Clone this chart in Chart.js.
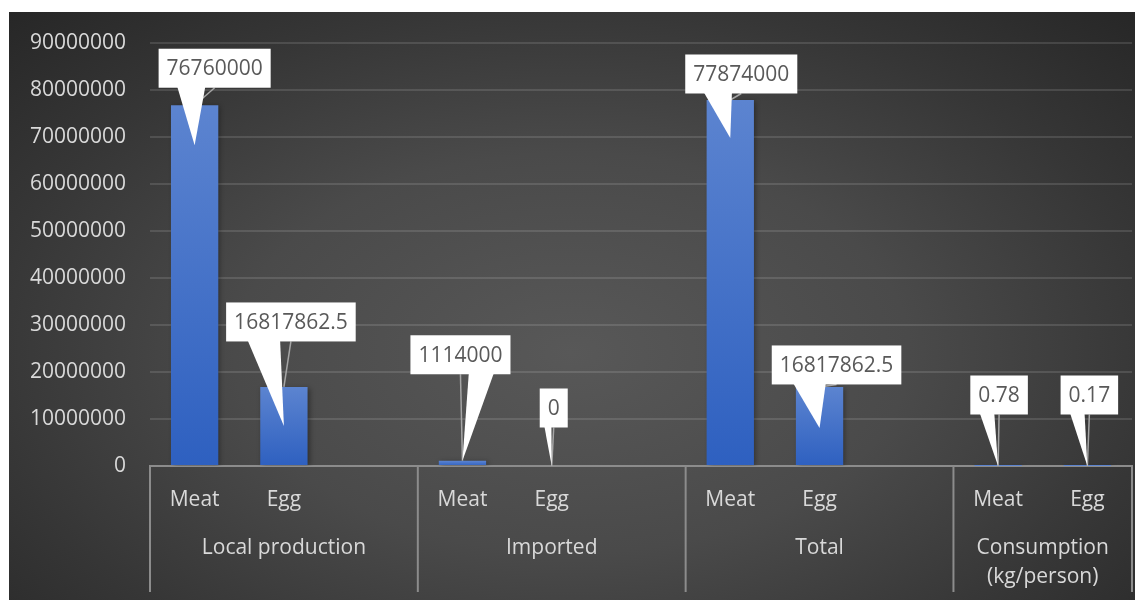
<!DOCTYPE html>
<html>
<head>
<meta charset="utf-8">
<script src="https://cdn.jsdelivr.net/npm/chart.js@4.4.1/dist/chart.umd.min.js"></script>
<style>
  html, body { margin: 0; padding: 0; background: #ffffff; }
  #wrap {
    position: absolute; left: 9px; top: 12px; width: 1126px; height: 588px;
    background: radial-gradient(ellipse 75% 85% at 50% 58%, #585858 0%, #4a4a4a 40%, #363636 70%, #242424 100%);
  }
</style>
</head>
<body>
<div id="wrap"><canvas id="chart" width="1126" height="588"></canvas></div>
<script>
// ── Data ────────────────────────────────────────────────
const itemLabels  = ["Meat", "Egg", "", "Meat", "Egg", "", "Meat", "Egg", "", "Meat", "Egg"];
const values      = [76760000, 16817862.5, null, 1114000, 0, null, 77874000, 16817862.5, null, 0.78, 0.17];
const groupNames  = ["Local production", "Imported", "Total", ["Consumption", "(kg/person)"]];
const groupStarts = [0, 3, 6, 9];
const yTicks      = [0, 10000000, 20000000, 30000000, 40000000, 50000000, 60000000, 70000000, 80000000, 90000000];

// callout placement relative to the bar top (px): box centre offset and wedge tip offset
const calloutLayout = {
  0: { dx: 20, dy: -37, tip: 40 },
  1: { dx: 7, dy: -65, tip: 39 },
  3: { dx: -2, dy: -106, tip: 0 },
  4: { dx: 2, dy: -58, tip: 0 },
  6: { dx: 11, dy: -26, tip: 38 },
  7: { dx: 17, dy: -22, tip: 41 },
  9: { dx: 1, dy: -71, tip: 0 },
  10: { dx: 2, dy: -71, tip: 0 }
};

const FONT = "'Open Sans', 'Liberation Sans', sans-serif";
const FONT_SIZE = 21;
const AXIS_COLOR = "#d9d9d9";
const LINE_COLOR = "#8c8c8c";

// ── Plugins ─────────────────────────────────────────────
const barShadow = {
  id: "barShadow",
  beforeDatasetsDraw(chart) {
    const c = chart.ctx;
    c.save();
    c.shadowColor = "rgba(0,0,0,0.35)";
    c.shadowBlur = 5;
    c.shadowOffsetX = 2;
    c.shadowOffsetY = 1;
  },
  afterDatasetsDraw(chart) {
    chart.ctx.restore();
  }
};

const groupAxis = {
  id: "groupAxis",
  afterDraw(chart) {
    const c = chart.ctx;
    const x = chart.scales.x;
    const area = chart.chartArea;
    const half = (x.getPixelForValue(1) - x.getPixelForValue(0)) / 2;
    const edges = groupStarts.map(i => x.getPixelForValue(i) - half);
    edges.push(area.right);

    c.save();
    c.strokeStyle = LINE_COLOR;
    c.lineWidth = 2;
    edges.forEach(ex => {
      c.beginPath();
      c.moveTo(ex, area.bottom);
      c.lineTo(ex, area.bottom + 126);
      c.stroke();
    });

    c.fillStyle = AXIS_COLOR;
    c.font = FONT_SIZE + "px " + FONT;
    c.textAlign = "center";
    c.textBaseline = "middle";
    groupNames.forEach((name, g) => {
      const cx = (edges[g] + edges[g + 1]) / 2;
      const lines = Array.isArray(name) ? name : [name];
      lines.forEach((ln, k) => c.fillText(ln, cx, area.bottom + 82 + k * 29));
    });
    c.restore();
  }
};

const callouts = {
  id: "callouts",
  afterDatasetsDraw(chart) {
    const c = chart.ctx;
    const meta = chart.getDatasetMeta(0);
    const yScale = chart.scales.y;
    c.save();
    c.font = FONT_SIZE + "px " + FONT;
    values.forEach((v, i) => {
      if (v === null) return;
      const lay = calloutLayout[i];
      const bx = meta.data[i].x;
      const by = yScale.getPixelForValue(v);
      const text = String(v);
      const w = c.measureText(text).width + 16;
      const h = 39;
      const cx = bx + lay.dx, cy = by + lay.dy;
      const l = cx - w / 2, t = cy - h / 2;
      const tipX = bx, tipY = by + lay.tip;

      // leader line
      c.strokeStyle = "#a6a6a6";
      c.lineWidth = 1.5;
      c.beginPath();
      c.moveTo(cx, t + h);
      c.lineTo(bx, by);
      c.stroke();

      // box + wedge
      const left = tipX < cx;
      const b0 = l + w * (left ? 2 : 7) / 12;
      const b1 = l + w * (left ? 5 : 10) / 12;
      c.fillStyle = "#ffffff";
      c.fillRect(l, t, w, h);
      c.beginPath();
      c.moveTo(b0, t + h - 1);
      c.lineTo(tipX, tipY);
      c.lineTo(b1, t + h - 1);
      c.closePath();
      c.fill();

      c.fillStyle = "#595959";
      c.textAlign = "center";
      c.textBaseline = "middle";
      c.fillText(text, cx, cy + 1);
    });
    c.restore();
  }
};

// ── Chart ───────────────────────────────────────────────
function barFill(context) {
  const chart = context.chart;
  const v = context.raw;
  if (!chart.chartArea || v === null || v === undefined) return "#4472c4";
  const y = chart.scales.y;
  const top = y.getPixelForValue(v);
  const bottom = y.getPixelForValue(0);
  const g = chart.ctx.createLinearGradient(0, top, 0, Math.max(bottom, top + 1));
  g.addColorStop(0, "#5c84d0");
  g.addColorStop(1, "#2e60c0");
  return g;
}

new Chart(document.getElementById("chart").getContext("2d"), {
  type: "bar",
  data: {
    labels: itemLabels,
    datasets: [{
      data: values,
      backgroundColor: barFill,
      borderWidth: 0,
      barPercentage: 0.53,
      categoryPercentage: 1
    }]
  },
  options: {
    responsive: false,
    animation: false,
    layout: { padding: { top: 31, right: 3, left: 0, bottom: 0 } },
    plugins: {
      legend: { display: false },
      tooltip: { enabled: false }
    },
    scales: {
      x: {
        type: "category",
        offset: true,
        grid: { display: false, drawTicks: false },
        border: { display: true, color: LINE_COLOR, width: 2 },
        ticks: {
          color: AXIS_COLOR,
          font: { family: FONT, size: FONT_SIZE },
          padding: 21,
          maxRotation: 0,
          autoSkip: false
        },
        afterFit(scale) { scale.height = 134; }
      },
      y: {
        min: 0,
        max: 90000000,
        afterBuildTicks(scale) { scale.ticks = yTicks.map(v => ({ value: v })); },
        grid: {
          color: "rgba(255,255,255,0.12)",
          lineWidth: 2,
          drawTicks: true,
          tickLength: 24,
          tickColor: "rgba(0,0,0,0)"
        },
        border: { display: false },
        ticks: {
          color: AXIS_COLOR,
          font: { family: FONT, size: FONT_SIZE },
          padding: 0,
          callback: v => String(v)
        },
        afterFit(scale) { scale.width = 141; }
      }
    }
  },
  plugins: [barShadow, callouts, groupAxis]
});
</script>
</body>
</html>
